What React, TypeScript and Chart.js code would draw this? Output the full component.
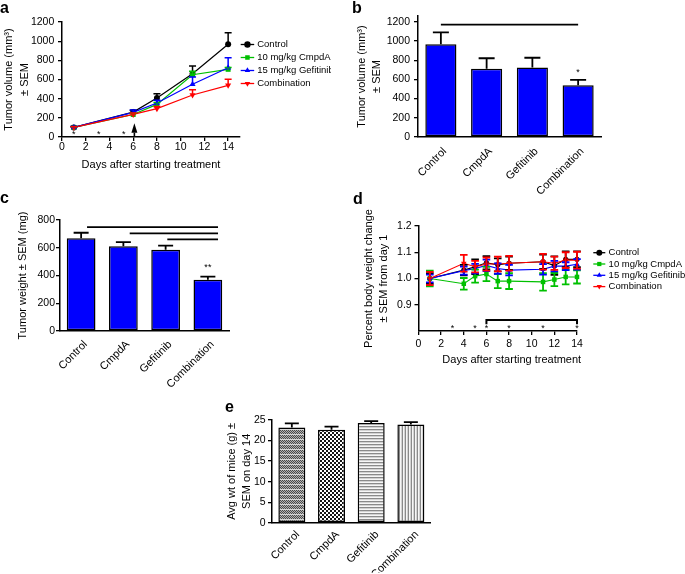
import React, { useEffect, useRef } from 'react';
import { Chart, registerables } from 'chart.js';

Chart.register(...registerables);

const FIG_W = 685;
const FIG_H = 574;
const FONT = '"Liberation Sans", Arial, Helvetica, sans-serif';
Chart.defaults.font.family = FONT;
Chart.defaults.color = '#000';

// ---------------- data ----------------
const seriesNames = ['Control', '10 mg/kg CmpdA', '15 mg/kg Gefitinib', 'Combination'];
const seriesColors = ['#000000', '#00c000', '#0000ff', '#ff0000'];
const seriesPointStyles = ['circle', 'rect', 'triangle', 'triangle'];
const seriesPointRotations = [0, 0, 0, 180];

// panel a: tumor volume over time
const aDays = [1, 6, 8, 11, 14];
const aControl = [100, 260, 407, 661, 967];
const aCmpdA = [100, 235, 340, 650, 706];
const aGefitinib = [100, 257, 355, 550, 723];
const aCombination = [100, 236, 296, 438, 539];
const aControlErr = [10, 18, 45, 80, 122];
const aCmpdAErr = [8, 12, 20, 35, 18];
const aGefitinibErr = [10, 25, 28, 76, 105];
const aCombinationErr = [8, 14, 22, 56, 63];
const aXTicks = [0, 2, 4, 6, 8, 10, 12, 14];
const aYTicks = [0, 200, 400, 600, 800, 1000, 1200];
const aStarDays = [1, 3.1, 5.2];
const aStarLevel = 50;
const aArrowDay = 6.1;
const aArrowTip = 143;
const aArrowBase = 45;

// panel b: tumor volume at end
const barCategories = ['Control', 'CmpdA', 'Gefitinib', 'Combination'];
const bVolume = [965, 710, 725, 540];
const bVolumeErr = [125, 110, 100, 55];
const bYTicks = [0, 200, 400, 600, 800, 1000, 1200];
const bSigLevel = 1170;
const bStarLevel = 700;

// panel c: tumor weight
const cWeight = [669, 611, 585, 370];
const cWeightErr = [39, 29, 31, 22];
const cYTicks = [0, 200, 400, 600, 800];
const cSigStarts = [0.14, 1.15, 2.04];
const cSigEnd = 3.24;
const cSigLevels = [749, 704, 660];
const cStarLevel = 479;

// panel d: body weight change
const dDays = [1, 4, 5, 6, 7, 8, 11, 12, 13, 14];
const dControl = [1.0, 1.032, 1.045, 1.06, 1.052, 1.058, 1.064, 1.049, 1.073, 1.073];
const dCmpdA = [1.0, 0.98, 1.009, 1.017, 0.99, 0.99, 0.987, 0.996, 1.006, 1.006];
const dGefitinib = [1.0, 1.03, 1.038, 1.05, 1.038, 1.032, 1.035, 1.047, 1.047, 1.054];
const dCombination = [1.0, 1.058, 1.045, 1.055, 1.055, 1.058, 1.064, 1.058, 1.07, 1.07];
const dControlErr = [0.02, 0.02, 0.028, 0.025, 0.025, 0.025, 0.027, 0.035, 0.03, 0.03];
const dCmpdAErr = [0.03, 0.022, 0.025, 0.027, 0.027, 0.03, 0.033, 0.025, 0.028, 0.025];
const dGefitinibErr = [0.015, 0.015, 0.018, 0.022, 0.02, 0.02, 0.02, 0.02, 0.015, 0.02];
const dCombinationErr = [0.025, 0.032, 0.022, 0.025, 0.028, 0.028, 0.03, 0.025, 0.03, 0.032];
const dXTicks = [0, 2, 4, 6, 8, 10, 12, 14];
const dYTicks = [0.9, 1.0, 1.1, 1.2];
const dStarDays = [3, 5, 6, 8, 11, 14];
const dStarLevel = 0.82;
const dBracketFrom = 6;
const dBracketTo = 14;
const dBracketLevel = 0.842;
const dBracketTick = 0.826;

// panel e: mouse weight
const eWeight = [23.2, 22.6, 24.3, 23.9];
const eWeightErr = [1.0, 0.8, 0.45, 0.6];
const eYTicks = [0, 5, 10, 15, 20, 25];

// ---------------- helpers ----------------
function drawMarker(ctx: CanvasRenderingContext2D, style: string, rotation: number, x: number, y: number, r: number, color: string) {
  ctx.save();
  ctx.translate(x, y);
  ctx.rotate(((rotation || 0) * Math.PI) / 180);
  ctx.fillStyle = color;
  ctx.beginPath();
  if (style === 'circle') {
    ctx.arc(0, 0, r, 0, Math.PI * 2);
  } else if (style === 'rect') {
    const s = r * Math.SQRT1_2;
    ctx.rect(-s, -s, 2 * s, 2 * s);
  } else {
    for (let k = 0; k < 3; k++) {
      const a = (k * 2 * Math.PI) / 3;
      const px = Math.sin(a) * r;
      const py = -Math.cos(a) * r;
      if (k === 0) ctx.moveTo(px, py);
      else ctx.lineTo(px, py);
    }
  }
  ctx.closePath();
  ctx.fill();
  ctx.restore();
}

function drawStar(ctx: CanvasRenderingContext2D, text: string, x: number, yCenter: number, size: number) {
  ctx.save();
  ctx.fillStyle = '#000';
  ctx.font = `${size}px ${FONT}`;
  ctx.textAlign = 'center';
  ctx.textBaseline = 'alphabetic';
  ctx.fillText(text, x, yCenter + 0.57 * size);
  ctx.restore();
}

function drawLetter(ctx: CanvasRenderingContext2D, letter: string, x: number, baseline: number) {
  ctx.save();
  ctx.fillStyle = '#000';
  ctx.font = `bold 16px ${FONT}`;
  ctx.textAlign = 'left';
  ctx.textBaseline = 'alphabetic';
  ctx.fillText(letter, x, baseline);
  ctx.restore();
}

const errorBarPlugin = {
  id: 'errorBars',
  afterDatasetsDraw(chart: any) {
    const ctx = chart.ctx;
    chart.data.datasets.forEach((ds: any, di: number) => {
      if (!ds.errors) return;
      const meta = chart.getDatasetMeta(di);
      const ys = chart.scales[meta.yAxisID];
      ctx.save();
      ctx.strokeStyle = ds.errColor;
      ctx.lineWidth = ds.errWidth;
      meta.data.forEach((el: any, i: number) => {
        const raw = ds.data[i];
        const v = typeof raw === 'number' ? raw : raw.y;
        const e = ds.errors[i];
        const x = el.x;
        const yTop = ys.getPixelForValue(v + e);
        const yBot = ds.errBoth ? ys.getPixelForValue(v - e) : el.y;
        ctx.beginPath();
        ctx.moveTo(x, yBot);
        ctx.lineTo(x, yTop);
        ctx.moveTo(x - ds.capHalf, yTop);
        ctx.lineTo(x + ds.capHalf, yTop);
        if (ds.errBoth) {
          ctx.moveTo(x - ds.capHalf, yBot);
          ctx.lineTo(x + ds.capHalf, yBot);
        }
        ctx.stroke();
      });
      ctx.restore();
    });
  },
};

function makeLegendPlugin(o: { dx: number; dy: number; rowGap: number; lineLen: number; textGap: number; fontSize: number; markerR: number; clipRight?: number }) {
  return {
    id: 'customLegend',
    afterDraw(chart: any) {
      const ctx = chart.ctx as CanvasRenderingContext2D;
      const ca = chart.chartArea;
      ctx.save();
      if (o.clipRight) {
        ctx.beginPath();
        ctx.rect(0, 0, o.clipRight, FIG_H);
        ctx.clip();
      }
      ctx.font = `${o.fontSize}px ${FONT}`;
      ctx.textBaseline = 'middle';
      ctx.textAlign = 'left';
      chart.data.datasets.forEach((ds: any, i: number) => {
        const y = ca.top + o.dy + i * o.rowGap;
        const x0 = ca.right + o.dx;
        ctx.strokeStyle = ds.borderColor;
        ctx.lineWidth = 1.3;
        ctx.beginPath();
        ctx.moveTo(x0, y);
        ctx.lineTo(x0 + o.lineLen, y);
        ctx.stroke();
        drawMarker(ctx, ds.pointStyle, ds.pointRotation, x0 + o.lineLen / 2, y, o.markerR, ds.borderColor);
        ctx.fillStyle = '#000';
        ctx.fillText(ds.label, x0 + o.lineLen + o.textGap, y);
      });
      ctx.restore();
    },
  };
}

const axisBorder = { display: true, color: '#000', width: 1.5 };
const axisGrid = { display: true, drawOnChartArea: false, drawTicks: true, tickLength: 4, color: '#000', lineWidth: 1.3 };

function valueAxis(o: { min: number; max: number; tickValues: number[]; width: number; tickPad: number; title: string[] | string; titleLH: number; titlePad: number; fmt?: (v: number) => string }) {
  return {
    type: 'linear',
    position: 'left',
    min: o.min,
    max: o.max,
    border: axisBorder,
    grid: axisGrid,
    ticks: {
      color: '#000',
      font: { family: FONT, size: 10.5 },
      padding: o.tickPad,
      callback: o.fmt ? (v: any) => o.fmt!(Number(v)) : (v: any) => String(v),
    },
    afterBuildTicks: (axis: any) => {
      axis.ticks = o.tickValues.map((v) => ({ value: v }));
    },
    afterFit: (s: any) => {
      s.width = o.width;
    },
    title: {
      display: true,
      text: o.title,
      color: '#000',
      font: { family: FONT, size: 11, lineHeight: o.titleLH },
      padding: { top: o.titlePad, bottom: 0 },
    },
  };
}

function timeAxis(o: { max: number; tickValues: number[]; height: number; tickPad: number; title?: string }) {
  return {
    type: 'linear',
    min: 0,
    max: o.max,
    border: axisBorder,
    grid: axisGrid,
    ticks: { color: '#000', font: { family: FONT, size: 10.5 }, padding: o.tickPad },
    afterBuildTicks: (axis: any) => {
      axis.ticks = o.tickValues.map((v) => ({ value: v }));
    },
    afterFit: (s: any) => {
      s.height = o.height;
    },
    title: o.title
      ? { display: true, text: o.title, color: '#000', font: { family: FONT, size: 11, lineHeight: 1.2 }, padding: { top: 0, bottom: 0 } }
      : { display: false },
  };
}

function categoryAxis(o: { height: number; pad: number; labelOffset: number }) {
  return {
    type: 'category',
    offset: true,
    border: axisBorder,
    grid: { display: false, drawTicks: false },
    ticks: {
      color: '#000',
      font: { family: FONT, size: 11 },
      maxRotation: 45,
      minRotation: 45,
      autoSkip: false,
      padding: o.pad,
      labelOffset: o.labelOffset,
    },
    afterFit: (s: any) => {
      s.height = o.height;
    },
  };
}

function baseOptions(padding: any) {
  return {
    responsive: false,
    maintainAspectRatio: false,
    animation: false,
    devicePixelRatio: 1,
    events: [],
    layout: { padding },
    plugins: { legend: { display: false }, tooltip: { enabled: false } },
  };
}

// ---------------- panel a ----------------
function makeA() {
  const L = 62, T = 22, R = 240, B = 137, YW = 62, XH = 34.6;
  const series = [aControl, aCmpdA, aGefitinib, aCombination];
  const errs = [aControlErr, aCmpdAErr, aGefitinibErr, aCombinationErr];
  const annot = {
    id: 'annotA',
    afterDraw(chart: any) {
      const ctx = chart.ctx as CanvasRenderingContext2D;
      const { x, y } = chart.scales;
      aStarDays.forEach((d) => drawStar(ctx, '*', x.getPixelForValue(d), y.getPixelForValue(aStarLevel), 9));
      const ax = x.getPixelForValue(aArrowDay);
      ctx.save();
      ctx.strokeStyle = '#000';
      ctx.fillStyle = '#000';
      ctx.lineWidth = 1.6;
      ctx.beginPath();
      ctx.moveTo(ax, y.getPixelForValue(0));
      ctx.lineTo(ax, y.getPixelForValue(aArrowBase));
      ctx.stroke();
      ctx.beginPath();
      ctx.moveTo(ax, y.getPixelForValue(aArrowTip));
      ctx.lineTo(ax + 3, y.getPixelForValue(aArrowBase));
      ctx.lineTo(ax - 3, y.getPixelForValue(aArrowBase));
      ctx.closePath();
      ctx.fill();
      ctx.restore();
      drawLetter(ctx, 'a', 0, 13);
    },
  };
  return {
    type: 'line',
    data: {
      datasets: series.map((s, k) => ({
        label: seriesNames[k],
        data: aDays.map((d, i) => ({ x: d, y: s[i] })),
        borderColor: seriesColors[k],
        backgroundColor: seriesColors[k],
        borderWidth: 1.2,
        pointStyle: seriesPointStyles[k],
        pointRotation: seriesPointRotations[k],
        pointRadius: k === 0 ? 3 : 3.5,
        pointBorderWidth: 0,
        order: 4 - k,
        clip: false,
        errors: errs[k],
        errBoth: false,
        errColor: seriesColors[k],
        errWidth: 1.5,
        capHalf: 3.5,
      })),
    },
    options: {
      ...baseOptions({ left: L - YW, top: T, right: FIG_W - R, bottom: FIG_H - B - XH }),
      scales: {
        x: timeAxis({ max: 15, tickValues: aXTicks, height: XH, tickPad: 0, title: 'Days after starting treatment' }),
        y: valueAxis({ min: 0, max: 1200, tickValues: aYTicks, width: YW, tickPad: 3.7, title: ['Tumor volume (mm³)', '± SEM'], titleLH: 1.43, titlePad: 1.45 }),
      },
    },
    plugins: [errorBarPlugin, makeLegendPlugin({ dx: 0.7, dy: 22.5, rowGap: 13, lineLen: 13.5, textGap: 3, fontSize: 9.5, markerR: 3.2, clipRight: 331 }), annot],
  };
}

// ---------------- panel b ----------------
function makeB() {
  const L = 418, T = 16, R = 601, B = 137, YW = 65.6, XH = 60;
  const annot = {
    id: 'annotB',
    afterDraw(chart: any) {
      const ctx = chart.ctx as CanvasRenderingContext2D;
      const { x, y } = chart.scales;
      ctx.save();
      ctx.strokeStyle = '#000';
      ctx.lineWidth = 1.8;
      ctx.beginPath();
      ctx.moveTo(x.getPixelForValue(0), y.getPixelForValue(bSigLevel));
      ctx.lineTo(x.getPixelForValue(3), y.getPixelForValue(bSigLevel));
      ctx.stroke();
      ctx.restore();
      drawStar(ctx, '*', x.getPixelForValue(3), y.getPixelForValue(bStarLevel), 9);
      drawLetter(ctx, 'b', 352, 13);
    },
  };
  return {
    type: 'bar',
    data: {
      labels: barCategories,
      datasets: [
        {
          data: bVolume,
          backgroundColor: '#0000ff',
          borderColor: '#000',
          borderWidth: 1.5,
          borderSkipped: false,
          barPercentage: 0.68,
          categoryPercentage: 1,
          errors: bVolumeErr,
          errBoth: false,
          errColor: '#000',
          errWidth: 1.8,
          capHalf: 8,
        },
      ],
    },
    options: {
      ...baseOptions({ left: L - YW, top: T, right: FIG_W - R, bottom: FIG_H - B - XH }),
      scales: {
        x: categoryAxis({ height: XH, pad: 8, labelOffset: 4 }),
        y: valueAxis({ min: 0, max: 1260, tickValues: bYTicks, width: YW, tickPad: 4, title: ['Tumor volume (mm³)', '± SEM'], titleLH: 1.43, titlePad: 1.45 }),
      },
    },
    plugins: [errorBarPlugin, annot],
  };
}

// ---------------- panel c ----------------
function makeC() {
  const L = 60, T = 220, R = 229, B = 331, YW = 43.9, XH = 60;
  const annot = {
    id: 'annotC',
    afterDraw(chart: any) {
      const ctx = chart.ctx as CanvasRenderingContext2D;
      const { x, y } = chart.scales;
      ctx.save();
      ctx.strokeStyle = '#000';
      ctx.lineWidth = 1.8;
      cSigStarts.forEach((s, i) => {
        ctx.beginPath();
        ctx.moveTo(x.getPixelForValue(s), y.getPixelForValue(cSigLevels[i]));
        ctx.lineTo(x.getPixelForValue(cSigEnd), y.getPixelForValue(cSigLevels[i]));
        ctx.stroke();
      });
      ctx.restore();
      drawStar(ctx, '**', x.getPixelForValue(3), y.getPixelForValue(cStarLevel), 9);
      drawLetter(ctx, 'c', 0, 203);
    },
  };
  return {
    type: 'bar',
    data: {
      labels: barCategories,
      datasets: [
        {
          data: cWeight,
          backgroundColor: '#0000ff',
          borderColor: '#000',
          borderWidth: 1.5,
          borderSkipped: false,
          barPercentage: 0.68,
          categoryPercentage: 1,
          errors: cWeightErr,
          errBoth: false,
          errColor: '#000',
          errWidth: 1.8,
          capHalf: 7.5,
        },
      ],
    },
    options: {
      ...baseOptions({ left: L - YW, top: T, right: FIG_W - R, bottom: FIG_H - B - XH }),
      scales: {
        x: categoryAxis({ height: XH, pad: 7, labelOffset: 4.5 }),
        y: valueAxis({ min: 0, max: 800, tickValues: cYTicks, width: YW, tickPad: 1, title: 'Tumor weight ± SEM (mg)', titleLH: 1.2, titlePad: 0 }),
      },
    },
    plugins: [errorBarPlugin, annot],
  };
}

// ---------------- panel d ----------------
function makeD() {
  const L = 418.5, T = 226, R = 577, B = 331, YW = 58.5, XH = 35;
  const series = [dControl, dCmpdA, dGefitinib, dCombination];
  const errs = [dControlErr, dCmpdAErr, dGefitinibErr, dCombinationErr];
  const annot = {
    id: 'annotD',
    afterDraw(chart: any) {
      const ctx = chart.ctx as CanvasRenderingContext2D;
      const { x, y } = chart.scales;
      const ca = chart.chartArea;
      dStarDays.forEach((d) => drawStar(ctx, '*', x.getPixelForValue(d), y.getPixelForValue(dStarLevel), 9));
      ctx.save();
      ctx.strokeStyle = '#000';
      ctx.lineWidth = 2;
      const x1 = x.getPixelForValue(dBracketFrom);
      const x2 = x.getPixelForValue(dBracketTo);
      const yl = y.getPixelForValue(dBracketLevel);
      const yt = y.getPixelForValue(dBracketTick);
      ctx.beginPath();
      ctx.moveTo(x1, yt);
      ctx.lineTo(x1, yl);
      ctx.lineTo(x2, yl);
      ctx.lineTo(x2, yt);
      ctx.stroke();
      ctx.restore();
      ctx.save();
      ctx.fillStyle = '#000';
      ctx.font = `11px ${FONT}`;
      ctx.textAlign = 'center';
      ctx.textBaseline = 'middle';
      ctx.fillText('Days after starting treatment', (ca.left + ca.right) / 2 + 14, ca.bottom + 29);
      ctx.restore();
      drawLetter(ctx, 'd', 353, 204);
    },
  };
  return {
    type: 'line',
    data: {
      datasets: series.map((s, k) => ({
        label: seriesNames[k],
        data: dDays.map((d, i) => ({ x: d, y: s[i] })),
        borderColor: seriesColors[k],
        backgroundColor: seriesColors[k],
        borderWidth: 1.1,
        pointStyle: seriesPointStyles[k],
        pointRotation: seriesPointRotations[k],
        pointRadius: k === 0 ? 2.6 : 3.2,
        pointBorderWidth: 0,
        order: 4 - k,
        clip: false,
        errors: errs[k],
        errBoth: true,
        errColor: seriesColors[k],
        errWidth: 1.8,
        capHalf: 3.8,
      })),
    },
    options: {
      ...baseOptions({ left: L - YW, top: T, right: FIG_W - R, bottom: FIG_H - B - XH }),
      scales: {
        x: timeAxis({ max: 14, tickValues: dXTicks, height: XH, tickPad: 2.7 }),
        y: valueAxis({
          min: 0.8,
          max: 1.2,
          tickValues: dYTicks,
          width: YW,
          tickPad: 2.8,
          title: ['Percent body weight change', '± SEM from day 1'],
          titleLH: 1.38,
          titlePad: 1.45,
          fmt: (v) => v.toFixed(1),
        }),
      },
    },
    plugins: [errorBarPlugin, makeLegendPlugin({ dx: 16.3, dy: 26.7, rowGap: 11.3, lineLen: 12, textGap: 3.3, fontSize: 9.5, markerR: 3 }), annot],
  };
}

// ---------------- panel e ----------------
function makePattern(kind: string): any {
  const c = document.createElement('canvas');
  const ctx = c.getContext('2d')!;
  const px = (x: number, y: number, col: string) => {
    ctx.fillStyle = col;
    ctx.fillRect(x, y, 1, 1);
  };
  if (kind === 'fine') {
    c.width = 2;
    c.height = 5;
    for (let yy = 0; yy < 4; yy++) for (let xx = 0; xx < 2; xx++) px(xx, yy, (xx + yy) % 2 === 0 ? '#4a4a4a' : '#b4b4b4');
    px(0, 4, '#d8d8d8');
    px(1, 4, '#d8d8d8');
  } else if (kind === 'checker') {
    c.width = 4;
    c.height = 4;
    ctx.fillStyle = '#ffffff';
    ctx.fillRect(0, 0, 4, 4);
    ctx.fillStyle = '#151515';
    ctx.fillRect(0, 0, 2, 2);
    ctx.fillRect(2, 2, 2, 2);
  } else if (kind === 'hlines') {
    c.width = 1;
    c.height = 3;
    px(0, 0, '#8a8a8a');
    px(0, 1, '#d2d2d2');
    px(0, 2, '#f6f6f6');
  } else {
    c.width = 3;
    c.height = 1;
    px(0, 0, '#8a8a8a');
    px(1, 0, '#f6f6f6');
    px(2, 0, '#d2d2d2');
  }
  const ctx2 = document.createElement('canvas').getContext('2d')!;
  return ctx2.createPattern(c, 'repeat');
}

function makeE() {
  const L = 272, T = 420, R = 430.7, B = 522.7, YW = 49.6, XH = 50;
  const patterns = [makePattern('fine'), makePattern('checker'), makePattern('hlines'), makePattern('vlines')];
  const annot = {
    id: 'annotE',
    afterDraw(chart: any) {
      drawLetter(chart.ctx, 'e', 225, 412);
    },
  };
  return {
    type: 'bar',
    data: {
      labels: barCategories,
      datasets: [
        {
          data: eWeight,
          backgroundColor: patterns,
          borderColor: '#000',
          borderWidth: 1.5,
          borderSkipped: false,
          barPercentage: 0.68,
          categoryPercentage: 1,
          errors: eWeightErr,
          errBoth: false,
          errColor: '#000',
          errWidth: 1.8,
          capHalf: 7,
        },
      ],
    },
    options: {
      ...baseOptions({ left: L - YW, top: T, right: FIG_W - R, bottom: FIG_H - B - XH }),
      scales: {
        x: categoryAxis({ height: XH, pad: 5.5, labelOffset: 6 }),
        y: valueAxis({ min: 0, max: 25, tickValues: eYTicks, width: YW, tickPad: 2.3, title: ['Avg wt of mice (g) ±', 'SEM on day 14'], titleLH: 1.42, titlePad: 1.45 }),
      },
    },
    plugins: [errorBarPlugin, annot],
  };
}

// ---------------- components ----------------
function ChartCanvas({ make }: { make: () => any }) {
  const ref = useRef<HTMLCanvasElement>(null);
  useEffect(() => {
    if (!ref.current) return;
    const chart = new Chart(ref.current, make());
    return () => chart.destroy();
  }, [make]);
  return (
    <canvas
      ref={ref}
      width={FIG_W}
      height={FIG_H}
      style={{ position: 'absolute', left: 0, top: 0, width: FIG_W, height: FIG_H, display: 'block' }}
    />
  );
}

export default function App() {
  return (
    <div
      style={{
        position: 'fixed',
        left: 0,
        top: 0,
        width: FIG_W,
        height: FIG_H,
        background: '#ffffff',
        overflow: 'hidden',
      }}
    >
      <ChartCanvas make={makeA} />
      <ChartCanvas make={makeB} />
      <ChartCanvas make={makeC} />
      <ChartCanvas make={makeD} />
      <ChartCanvas make={makeE} />
    </div>
  );
}
